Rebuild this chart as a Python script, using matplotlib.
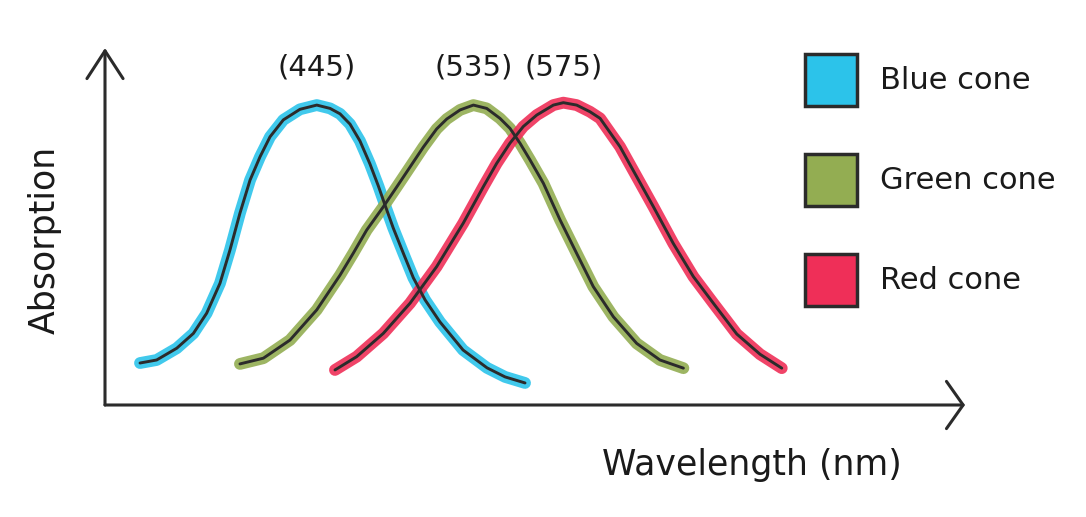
import matplotlib
matplotlib.use('Agg')
import matplotlib.pyplot as plt
from matplotlib import font_manager
from matplotlib.patches import Patch

# Cone absorption curves (wavelength in nm, relative absorption)
blue_nm = [345.0, 354.5, 366.0, 375.5, 383.1, 390.7, 396.4, 402.1, 407.9, 413.6, 419.3, 426.9,
           436.4, 446.0, 453.6, 459.3, 465.0, 470.7, 476.4, 481.2, 485.0, 489.7, 495.5, 501.2,
           507.9, 516.4, 529.6, 543.3, 553.6, 565.0]
blue_abs = [0.139, 0.149, 0.188, 0.237, 0.304, 0.403, 0.513, 0.635, 0.745, 0.822, 0.888, 0.944,
            0.979, 0.993, 0.982, 0.964, 0.930, 0.874, 0.798, 0.725, 0.662, 0.586, 0.502, 0.421,
            0.348, 0.275, 0.182, 0.123, 0.093, 0.073]

green_nm = [402.1, 415.5, 430.7, 446.0, 459.3, 466.9, 474.5, 484.0, 491.7, 499.3, 506.9, 514.5,
            520.3, 527.9, 535.5, 543.1, 550.7, 556.4, 562.1, 567.9, 575.5, 585.0, 594.5, 604.0,
            615.5, 628.8, 642.1, 655.5]
green_abs = [0.136, 0.155, 0.215, 0.315, 0.430, 0.503, 0.579, 0.656, 0.722, 0.788, 0.854, 0.914,
             0.947, 0.977, 0.993, 0.982, 0.949, 0.916, 0.867, 0.811, 0.734, 0.613, 0.502, 0.392,
             0.292, 0.204, 0.149, 0.122]

red_nm = [456.4, 468.8, 484.0, 499.3, 514.5, 529.7, 541.2, 548.8, 556.4, 564.0, 571.7, 581.2,
          586.9, 594.5, 602.1, 607.9, 619.3, 628.8, 638.3, 649.7, 661.2, 672.6, 686.0, 699.3,
          711.7]
red_abs = [0.116, 0.160, 0.237, 0.337, 0.458, 0.602, 0.723, 0.800, 0.867, 0.922, 0.960, 0.993,
           1.001, 0.993, 0.971, 0.949, 0.855, 0.756, 0.657, 0.535, 0.425, 0.337, 0.235, 0.168,
           0.122]

cone_names = ['Blue cone', 'Green cone', 'Red cone']
peak_labels = ['(445)', '(535)', '(575)']
cone_colors = ['#2cc3ea', '#93ad52', '#ef2f58']
ink = '#2b2b2b'


def pick_font(names):
    for n in names:
        try:
            font_manager.findfont(n, fallback_to_default=False)
            return n, True
        except ValueError:
            pass
    return 'DejaVu Sans', False


font, narrow = pick_font(['Liberation Sans Narrow'])
if narrow:
    sizes = dict(peak=31, legend=30, axis=35)
else:
    sizes = dict(peak=21, legend=22, axis=25)
plt.rcParams['font.family'] = [font, 'DejaVu Sans']

fig = plt.figure(figsize=(10.86, 5.17), dpi=100)
ax = fig.add_axes([105 / 1086, 1 - 405 / 517, 860 / 1086, 357 / 517])
ax.set_xlim(325, 816.4)
ax.set_ylim(0, 1.182)
for s in ax.spines.values():
    s.set_visible(False)
ax.set_xticks([])
ax.set_yticks([])

curves = [(blue_nm, blue_abs), (green_nm, green_abs), (red_nm, red_abs)]

# colored marker strokes first, black pen lines on top
for (x, y), c in zip(curves, cone_colors):
    ax.plot(x, y, color=c, lw=8.5, alpha=0.9, solid_capstyle='round', solid_joinstyle='round')
for (x, y), c in zip(curves, cone_colors):
    ax.plot(x, y, color=ink, lw=2.1, solid_capstyle='round', solid_joinstyle='round')

for (x, y), lab in zip(curves, peak_labels):
    i = y.index(max(y))
    ax.text(x[i], 1.116, lab, ha='center', va='center', fontsize=sizes['peak'], color='#1a1a1a')

# hand-drawn style axis arrows
yarrow = dict(arrowstyle='->,head_length=1.0,head_width=0.65', color=ink, lw=2.2,
              mutation_scale=20, shrinkA=0, shrinkB=0)
xarrow = dict(arrowstyle='->,head_length=0.6,head_width=0.85', color=ink, lw=2.2,
              mutation_scale=20, shrinkA=0, shrinkB=0)
ax.annotate('', xy=(0, 1), xytext=(0, 0), xycoords='axes fraction', arrowprops=yarrow,
            annotation_clip=False)
ax.annotate('', xy=(1, 0), xytext=(0, 0), xycoords='axes fraction', arrowprops=xarrow,
            annotation_clip=False)

fig.text(45 / 1086, 1 - 240 / 517, 'Absorption', rotation=90, ha='center', va='center',
         fontsize=sizes['axis'], color='#1a1a1a')
fig.text(752 / 1086, 1 - 465 / 517, 'Wavelength (nm)', ha='center', va='center',
         fontsize=sizes['axis'], color='#1a1a1a')

handles = [Patch(facecolor=c, edgecolor=ink, linewidth=2.5) for c in cone_colors]
fs = sizes['legend']
box = 37.4  # legend square side in points
hh = (box / fs - 0.245) / 0.65
ax.legend(handles, cone_names, loc='upper left', bbox_to_anchor=(805 / 1086, 1 - 54 / 517),
          bbox_transform=fig.transFigure, frameon=False, fontsize=fs,
          handlelength=box / fs, handleheight=hh, labelspacing=(72 - box) / fs,
          handletextpad=16.6 / fs, borderpad=0, borderaxespad=0, labelcolor='#1a1a1a')

fig.savefig('out.png', dpi=100)
